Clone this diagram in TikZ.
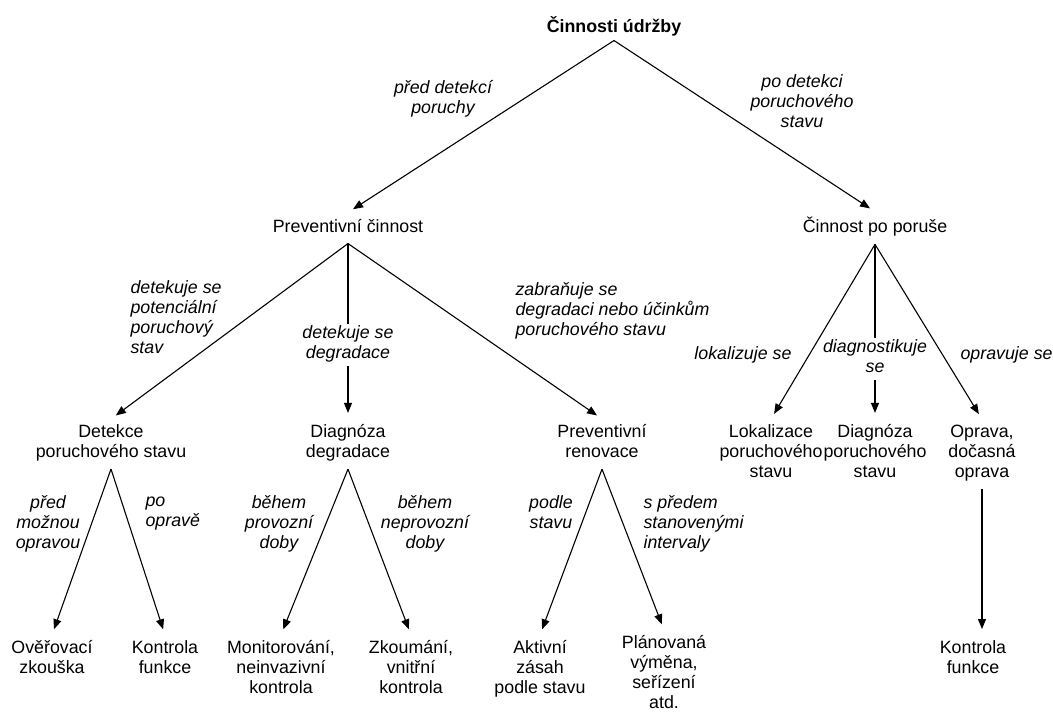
\documentclass[tikz,border=0pt]{standalone}
\usepackage{fontspec}
\setmainfont{Liberation Sans}
\usetikzlibrary{arrows.meta}

\begin{document}
\begin{tikzpicture}[x=1pt,y=-1pt,->,>={Triangle[length=10pt,width=8pt]},shorten >=6pt,line width=1.1pt,node distance=216pt,
  main node/.style={align=center,inner xsep=0pt,inner ysep=5pt,font=\fontsize{17.8}{20}\selectfont,execute at begin node=\strut,execute at end node=\strut},
  reason/.style={align=center,inner sep=0pt,font=\fontsize{17.8}{20}\selectfont\itshape,execute at begin node=\strut,execute at end node=\strut}]
                        \useasboundingbox (0,0) rectangle (1053,713);

                        \node[main node,font=\fontsize{17.8}{20}\selectfont\bfseries,inner ysep=1pt] (1) at (614,28) {Činnosti údržby};
                        \node[main node] (2) [node distance = 200pt, below of = 1, xshift = -266]{Preventivní činnost};
                        \node[main node] (3) [node distance = 200pt, below of = 1, xshift = 261]{Činnost po poruše};

                        \node[main node] (4) [below of = 2, xshift = -237]{Detekce\\poruchového stavu};
                        \node[main node] (5) [below of = 2]{Diagnóza\\degradace};
                        \node[main node] (6) [below of = 2, xshift = 254]{Preventivní\\renovace};

                        \node[main node] (7) [node distance = 226pt, below of = 3, xshift = -104]{Lokalizace\\poruchového\\stavu};
                        \node[main node] (8) [node distance = 226pt, below of = 3]{Diagnóza\\poruchového\\stavu};
                        \node[main node] (9) [node distance = 226pt, below of = 3, xshift = 107]{Oprava,\\dočasná\\oprava};

                        \node[main node] (10) [below of = 4, xshift = -59]{Ověřovací\\zkouška};
                        \node[main node] (11) [below of = 4, xshift = 54]{Kontrola\\funkce};
                        \node[main node] (12) [node distance = 226pt, below of = 5, xshift = -67]{Monitorování,\\neinvazivní\\kontrola};
                        \node[main node] (13) [node distance = 226pt, below of = 5, xshift = 63]{Zkoumání,\\vnitřní\\kontrola};
                        \node[main node] (14) [node distance = 226pt, below of = 6, xshift = -62]{Aktivní\\zásah\\podle stavu};
                        \node[main node] (15) [node distance = 231pt, below of = 6, xshift = 62]{Plánovaná\\výměna,\\seřízení\\atd.};
                        \node[main node] (16) [node distance = 206pt, below of = 9, xshift = -9]{Kontrola\\funkce};

                        \path
                                (1.south) edge (2.north)
                                (1.south) edge (3.north)

                                (2.south) edge (4.north)
                                (2.south) edge (5.north)
                                (2.south) edge (6.north)

                                (3.south) edge (7.north)
                                (3.south) edge (8.north)
                                (3.south) edge (9.north)

                                (4.south) edge (10.north)
                                (4.south) edge (11.north)
                                (5.south) edge (12.north)
                                (5.south) edge (13.north)
                                (6.south) edge (14.north)
                                (6.south) edge (15.north)
                                (9.south) edge (9.south |- 16.north)
                            ;

                        % podminky u sipek
                        \node[reason] (l1) at (443,100) {před detekcí\\poruchy};
                        \node[reason] (l2) at (802,104) {po detekci\\poruchového\\stavu};
                        \node[reason,anchor=west,align=left] (l3) at (130,320) {detekuje se\\potenciální\\poruchový\\stav};
                        \node[reason,fill=white,inner sep=2pt] (l4) at (348,345) {detekuje se\\degradace};
                        \node[reason,anchor=west,align=left] (l5) at (515,312) {zabraňuje se\\degradaci nebo účinkům\\poruchového stavu};
                        \node[reason,anchor=east] (l6) at (792,355) {lokalizuje se};
                        \node[reason,fill=white,inner sep=2pt] (l7) at (875,359) {diagnostikuje\\se};
                        \node[reason,anchor=west] (l8) at (960,355) {opravuje se};
                        \node[reason] (l9) at (48,525) {před\\možnou\\opravou};
                        \node[reason,anchor=west,align=left] (l10) at (145,515) {po\\opravě};
                        \node[reason] (l11) at (279,525) {během\\provozní\\doby};
                        \node[reason] (l12) at (425,525) {během\\neprovozní\\doby};
                        \node[reason] (l13) at (551,515) {podle\\stavu};
                        \node[reason,anchor=west,align=left] (l14) at (643,525) {s předem\\stanovenými\\intervaly};
                    \end{tikzpicture}
\end{document}
